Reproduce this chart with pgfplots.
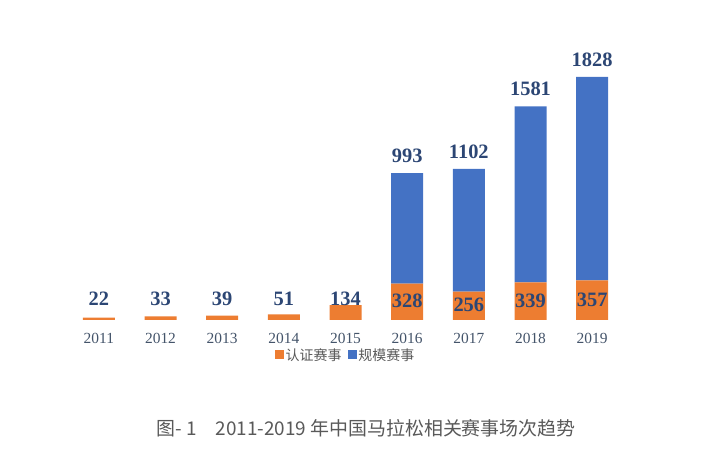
\documentclass[border=0pt]{standalone}
\usepackage{fontspec}
\setmainfont{Liberation Serif}
\newfontfamily\cjk{Noto Sans CJK SC}
\usepackage{pgfplots}
\pgfplotsset{compat=1.18}
\definecolor{cOr}{HTML}{ED7D31}
\definecolor{cBl}{HTML}{4472C4}
\definecolor{cLab}{HTML}{2C4674}
\definecolor{cTick}{HTML}{44546A}
\definecolor{cCap}{HTML}{595959}
\newcommand{\inlab}[2]{\smash{\lower#1bp\hbox{#2}}}
\begin{document}
\begin{tikzpicture}
\useasboundingbox (0,0) rectangle (704bp,461bp);
\begin{axis}[
  at={(68bp,141bp)}, anchor=south west,
  scale only axis, width=555bp, height=267bp,
  xmin=-0.5, xmax=8.5, ymin=0, ymax=2400,
  ybar stacked, bar width=32bp,
  clip=false,
  axis line style={draw=none},
  ytick=\empty,
  xtick={0,...,8},
  xticklabels={2011,2012,2013,2014,2015,2016,2017,2018,2019},
  major tick length=0pt,
  xticklabel style={font=\fontsize{15.5}{16}\selectfont, text=cTick, yshift=-10bp},
  legend style={at={(0.5,-0.131)}, anchor=center, draw=none, fill=none,
    legend columns=-1, font=\cjk\fontsize{14}{14}\selectfont, text=cCap,
    /tikz/every even column/.append style={column sep=4bp}},
  legend image code/.code={\fill[#1] (0bp,-4.5bp) rectangle (9bp,4.5bp);},
  nodes near coords,
  point meta=explicit symbolic,
  every node near coord/.append style={anchor=south, yshift=0bp, inner sep=0pt,
    font=\bfseries\fontsize{20.5}{20.5}\selectfont, text=cLab},
]
\addplot[fill=cOr, draw=none] coordinates {
  (0,22) [\inlab{-12.6}{22}] (1,33) [\inlab{-12.0}{33}] (2,39) [\inlab{-11.6}{39}]
  (3,51) [\inlab{-11.0}{51}] (4,134) [\inlab{-6.3}{134}]
  (5,328) [\inlab{6.7}{328}] (6,256) [\inlab{6.7}{256}]
  (7,339) [\inlab{6.7}{339}] (8,357) [\inlab{6.7}{357}]
};
\addlegendentry{认证赛事}
\addplot[fill=cBl, draw=none] coordinates {
  (0,0) [] (1,0) [] (2,0) [] (3,0) [] (4,0) []
  (5,993) [\inlab{-65.2}{993}] (6,1102) [\inlab{-71.3}{1102}]
  (7,1581) [\inlab{-97.9}{1581}] (8,1828) [\inlab{-111.7}{1828}]
};
\addlegendentry{规模赛事}
\end{axis}
\node[font=\cjk\fontsize{19}{19}\selectfont, text=cCap] at (366bp,33bp) {图- 1\quad 2011-2019 年中国马拉松相关赛事场次趋势};
\end{tikzpicture}
\end{document}
